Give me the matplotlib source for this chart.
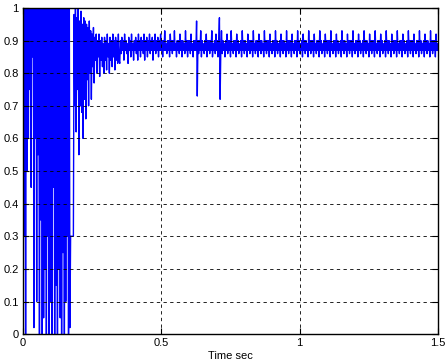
import numpy as np
import matplotlib
matplotlib.use("Agg")
import matplotlib.pyplot as plt

# sample step (s)
dt = 0.0025

# start-up: full 0..1 swings (values outside the axis get clipped)
startup = [0.9, 1.2, 0.3, 1.2, -0.1, 1.2, 0.5, 1.2,
           0.6, 1.2, 0.75, 1.2, 0.45, 1.2, 0.85, 1.2,
           0.02, 1.2, 0.6, 1.2, 0.1, 1.2, 0.55, 1.2,
           -0.1, 1.2, 0.35, 1.2, -0.1, 1.2, 0.05, 1.2,
           0.2, 1.2, -0.1, 1.2, 0.3, 1.2, -0.1, 1.2,
           0.1, 1.2, -0.1, 1.2, 0.45, 1.2, -0.1, 1.2,
           0.15, 1.2, -0.1, 1.2, 0.2, 1.2, 0.05, 1.2,
           -0.1, 1.2, 0.25, 1.2, -0.1, 1.2, 0.1, 1.2,
           0.3, 1.2, -0.1, 1.2, 0.02, 0.3, 0.3, 0.3, 0.3, 0.3]

# transient, t = 0.185 .. 0.3475
transient = [0.98, 0.70, 1.00, 0.62, 0.97, 0.75, 1.00, 0.55, 0.96, 0.70,
             0.99, 0.68, 0.95, 0.60, 0.97, 0.72, 0.96, 0.66, 0.95, 0.78,
             0.94, 0.70, 0.96, 0.80, 0.93, 0.72, 0.92, 0.82, 0.94, 0.77,
             0.91, 0.84, 0.92, 0.80, 0.90, 0.85, 0.92, 0.79, 0.90, 0.84,
             0.91, 0.82, 0.89, 0.80, 0.91, 0.84, 0.90, 0.81, 0.92, 0.85,
             0.89, 0.80, 0.91, 0.84, 0.90, 0.82, 0.92, 0.85, 0.90, 0.81,
             0.91, 0.84, 0.90, 0.83, 0.92, 0.84]

# steady ripple from t = 0.35, in hundredths
steady_rows = [
    "83 90 86 91 87 90 84 92 87 90 86 89 83 91 87 90 85 92 87 89",
    "84 90 87 91 86 90 84 92 87 90 85 91 87 90 86 92 84 90 87 91",
    "85 90 87 92 86 90 87 91 84 90 87 92 86 90 87 91 85 90 87 92",
    "87 90 85 90 87 93 87 89 86 90 87 90 85 92 87 90 86 90 87 93",
    "87 89 85 90 87 90 86 92 87 90 85 90 87 89 86 93 87 90 85 90",
    "87 90 86 92 87 89 85 90 87 90 87 96 73 90 86 90 87 93 85 90",
    "87 89 86 90 87 92 85 90 87 90 86 90 87 93 85 89 87 90 86 92",
    "87 90 85 90 97 72 87 93 86 90 87 89 85 90 87 92 86 90 87 90",
    "85 93 87 89 86 90 87 90 85 92 87 90 86 89 87 90 85 93 87 90",
    "86 90 87 89 85 92 87 90 86 90 87 90 85 93 87 89 86 90 87 90",
    "85 92 87 90 86 90 87 89 85 93 87 90 86 90 87 90 85 92 87 89",
    "86 90 87 90 85 93 87 90 86 89 87 90 85 92 87 90 86 90 87 89",
    "85 93 87 90 86 90 87 90 85 92 87 89 86 90 87 90 85 93 87 90",
    "86 89 87 90 85 92 87 90 86 90 87 89 85 93 87 90 86 90 87 90",
    "85 92 87 89 86 90 87 90 85 93 87 90 86 89 87 90 85 92 87 90",
    "86 90 87 90 85 93 87 89 86 90 87 90 85 92 87 90 86 89 87 90",
    "85 93 87 90 86 90 87 89 85 92 87 90 86 90 87 90 85 93 87 89",
    "86 90 87 90 85 92 87 90 86 89 87 90 85 93 87 90 86 90 87 89",
    "85 92 87 90 86 90 87 90 85 93 87 89 86 90 87 90 85 92 87 90",
    "86 89 87 90 85 93 87 90 86 90 87 89 85 92 87 90 86 90 87 90",
    "85 93 87 89 86 90 87 90 85 92 87 90 86 89 87 90 85 93 87 90",
    "86 90 87 90 85 92 87 89 86 90 87 90 85 93 87 90 86 89 87 90",
    "85 92 87 90 86 90 87 89 85 93 87 90 86 90 87 90 85 92 87 89",
    "87",
]
steady = [int(v) / 100 for row in steady_rows for v in row.split()]

y = np.array(startup + transient + steady)
t = np.arange(len(y)) * dt

xticks = [0, 0.5, 1, 1.5]
yticks = [0, 0.1, 0.2, 0.3, 0.4, 0.5, 0.6, 0.7, 0.8, 0.9, 1]

plt.rcParams['font.family'] = ['Liberation Sans', 'DejaVu Sans']

fig = plt.figure(figsize=(4.48, 3.62), dpi=100)
ax = fig.add_axes([0.051, 0.077, 0.927, 0.901])
ax.plot(t, y, color='#0000ff', lw=1.0)

ax.set_xlim(0, 1.5)
ax.set_ylim(0, 1)
ax.set_xticks(xticks)
ax.set_xticklabels(['0', '0.5', '1', '1.5'])
ax.set_yticks(yticks)
ax.set_yticklabels(['0', '0.1', '0.2', '0.3', '0.4', '0.5', '0.6', '0.7', '0.8', '0.9', '1'])
ax.tick_params(direction='in', length=4, labelsize=8, pad=3, top=True, right=True)
ax.set_axisbelow(False)
ax.grid(True, color='black', linestyle=(0, (4, 4)), linewidth=0.6)
for s in ax.spines.values():
    s.set_linewidth(1.0)
ax.set_xlabel('Time sec', fontsize=8, labelpad=2)

fig.savefig('out.png', dpi=100)
